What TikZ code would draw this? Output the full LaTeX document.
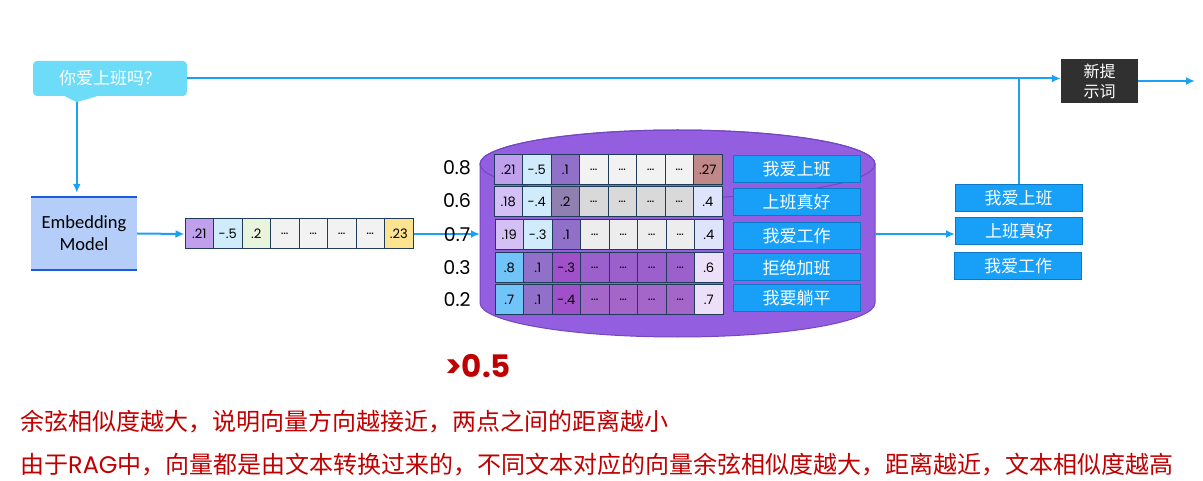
\documentclass[tikz,border=0pt]{standalone}
\usepackage{fontspec}
\setsansfont{Carlito}
\newfontfamily\cjk{Noto Sans CJK SC}
\newfontfamily\hand{Poppins}
\usetikzlibrary{positioning,arrows.meta}
\definecolor{flowblue}{HTML}{1BA1F2}
\definecolor{qcyan}{HTML}{6DDCF8}
\definecolor{npgray}{HTML}{303030}
\definecolor{embfill}{HTML}{B4CDF9}
\definecolor{embline}{HTML}{1A5CE0}
\definecolor{docblue}{HTML}{18A0F8}
\definecolor{docline}{HTML}{0E78C8}
\definecolor{cellline}{HTML}{1F3C5A}
\definecolor{dbfill}{HTML}{935FE0}
\definecolor{dbline}{HTML}{7446C0}
\definecolor{darkred}{HTML}{C00000}
\definecolor{pA}{HTML}{C0A0EC}
\definecolor{lb}{HTML}{D0ECFC}
\definecolor{lg}{HTML}{E8F4DC}
\definecolor{gA}{HTML}{F2F2F2}
\definecolor{yl}{HTML}{FDE38F}
\definecolor{pB}{HTML}{9070C8}
\definecolor{rb}{HTML}{C08888}
\definecolor{pC}{HTML}{D4C0F4}
\definecolor{pD}{HTML}{9080B0}
\definecolor{gB}{HTML}{D9D9D9}
\definecolor{lv}{HTML}{DDE4FC}
\definecolor{gC}{HTML}{EDEDED}
\definecolor{sk}{HTML}{70C4F8}
\definecolor{pE}{HTML}{A050C8}
\definecolor{pF}{HTML}{9C60CC}
\definecolor{pG}{HTML}{ECE0F8}
\definecolor{pH}{HTML}{A466C8}

\begin{document}
\begin{tikzpicture}[x=1pt,y=-1pt,>={Latex[length=9pt,width=8pt]},
  flow/.style={draw=flowblue,line width=2pt},
  cell/.style={draw=cellline,line width=1pt,minimum width=28.5pt,minimum height=30pt,inner sep=0pt,font=\hand\fontsize{13}{13}\selectfont},
  doc/.style={draw=docline,fill=docblue,line width=1pt,minimum width=127pt,minimum height=27pt,inner sep=0pt,text=white,font=\cjk\fontsize{17}{17}\selectfont},
  score/.style={font=\hand\fontsize{19}{19}\selectfont}]
  \useasboundingbox (0,0) rectangle (1203,481);
  \node[fill=qcyan,rounded corners=4pt,minimum width=154pt,minimum height=35pt,text=white,font=\cjk\fontsize{17}{17}\selectfont] (q) at (110,78.5) {你爱上班吗？};
  \fill[qcyan] ([xshift=32pt]q.south west) -- ([xshift=44pt,yshift=-6pt]q.south west) coordinate (qtip) -- ([xshift=64pt]q.south west) -- cycle;
  \node[fill=npgray,text=white,minimum width=77pt,minimum height=44pt,align=center,font=\cjk\fontsize{16}{20}\selectfont] (np) at (1099.5,81) {新提\\示词};
  \coordinate (out) at (1195,81);
  \draw[flow,->] (q.east) -- (q.east -| np.west);
  \draw[flow,->] (np.east) -- (out);
  \node[fill=embfill,minimum width=106pt,minimum height=73pt,align=center,font=\sffamily\fontsize{18.5}{22}\selectfont] (emb) at (84,233.5) {Embedding\\Model};
  \draw[embline,line width=2.5pt] (emb.north west) -- (emb.north east) (emb.south west) -- (emb.south east);
  \draw[flow,->,shorten >=4pt] (qtip) -- (qtip |- emb.north);
  \foreach \v/\c [count=\i] in {.21/pA,-.5/lb,.2/lg,\dots/gA,\dots/gA,\dots/gA,\dots/gA,.23/yl}
    \node[cell,fill=\c] (v\i) at ({185+28.5*(\i-0.5)},234) {\v};
  \draw[flow,->] (emb.east) -- (v1.west);
  \coordinate (dbW) at (480,234);
  \coordinate (dbE) at (875,234);
  \filldraw[fill=dbfill,draw=dbline,line width=1pt] (480,164) -- (480,303) arc[start angle=180,end angle=0,x radius=197.5,y radius=34] -- (875,164) arc[start angle=0,end angle=-180,x radius=197.5,y radius=34] -- cycle;
  \draw[dbline,line width=1pt] (677.5,164) ellipse[x radius=197.5,y radius=34];
  \draw[flow,->] (v8.east) -- (dbW);
  \foreach \s/\y [count=\i] in {0.8/168,0.6/201,0.7/235,0.3/268,0.2/300}
    \node[score] (s\i) at (457,\y) {\s};
  \foreach \v/\c [count=\i] in {.21/pA,-.5/lb,.1/pB,\dots/gA,\dots/gA,\dots/gA,\dots/gA,.27/rb}
    \node[cell,fill=\c] (ra\i) at ({494+28.5*(\i-0.5)},170) {\v};
  \foreach \v/\c [count=\i] in {.18/pC,-.4/lb,.2/pD,\dots/gB,\dots/gB,\dots/gB,\dots/gB,.4/lv}
    \node[cell,fill=\c] (rb\i) at ({494+28.5*(\i-0.5)},202) {\v};
  \foreach \v/\c [count=\i] in {.19/pC,-.3/lb,.1/pB,\dots/gC,\dots/gC,\dots/gC,\dots/gC,.4/lv}
    \node[cell,fill=\c] (rc\i) at ({495+28.5*(\i-0.5)},235) {\v};
  \foreach \v/\c [count=\i] in {.8/sk,.1/pB,-.3/pE,\dots/pF,\dots/pF,\dots/pF,\dots/pF,.6/pG}
    \node[cell,fill=\c] (rd\i) at ({495+28.5*(\i-0.5)},268) {\v};
  \foreach \v/\c [count=\i] in {.7/sk,.1/pB,-.4/pE,\dots/pH,\dots/pH,\dots/pH,\dots/pH,.7/pG}
    \node[cell,fill=\c] (re\i) at ({495+28.5*(\i-0.5)},300) {\v};
  \foreach \t/\y [count=\i] in {我爱上班/169.5,上班真好/202.5,我爱工作/236.5,拒绝加班/267.5,我要躺平/298.5}
    \node[doc] (d\i) at (796.5,\y) {\t};
  \node[doc] (g1) at (1018.5,198.5) {我爱上班};
  \node[doc] (g2) at (1019,231.5) {上班真好};
  \node[doc] (g3) at (1018,266.5) {我爱工作};
  \draw[flow,->] (dbE) -- (dbE -| g2.west);
  \draw[flow] (g1.north) -- (g1.north |- q.east);
  \node[text=darkred,font=\hand\fontsize{31}{31}\selectfont\bfseries] (th) at (478,366) {>0.5};
  \node[anchor=west,inner sep=0pt,text=darkred,font=\cjk\fontsize{24}{24}\selectfont] (t1) at (20,422) {余弦相似度越大，说明向量方向越接近，两点之间的距离越小};
  \node[anchor=west,inner sep=0pt,text=darkred,font=\cjk\fontsize{24}{24}\selectfont] (t2) at (20,465) {由于{\hand RAG}中，向量都是由文本转换过来的，不同文本对应的向量余弦相似度越大，距离越近，文本相似度越高};
\end{tikzpicture}
\end{document}
